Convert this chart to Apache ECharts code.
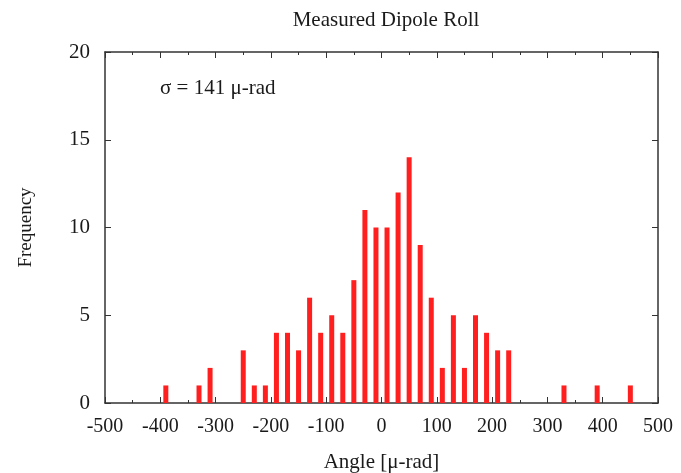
<!DOCTYPE html>
<html>
<head>
<meta charset="UTF-8">
<script src="https://cdn.jsdelivr.net/npm/echarts@6/dist/echarts.min.js"></script>
<style>
  html, body { margin: 0; padding: 0; background: #fff; }
  #chart { width: 681px; height: 473px; }
</style>
</head>
<body>
<div id="chart"></div>
<script>
// bin centres (μ-rad) and counts
const binCenters = [-390, -330, -310, -250, -230, -210, -190, -170, -150, -130, -110, -90, -70, -50, -30, -10,
                    10, 30, 50, 70, 90, 110, 130, 150, 170, 190, 210, 230, 330, 390, 450];
const counts =     [1, 1, 2, 3, 1, 1, 4, 4, 3, 6, 4, 5, 4, 7, 11, 10,
                    10, 12, 14, 9, 6, 2, 5, 2, 5, 4, 3, 3, 1, 1, 1];

const font = 'Liberation Serif';
const axisColor = '#333';
const textColor = '#1a1a1a';

const chart = echarts.init(document.getElementById('chart'));

const baseX = {
  type: 'value', min: -500, max: 500, interval: 100,
  axisLine: { show: true, onZero: false, lineStyle: { color: axisColor, width: 1.5 } },
  axisTick: { show: true, inside: true, length: 6, lineStyle: { color: axisColor } },
  minorTick: { show: true, splitNumber: 2, length: 3, lineStyle: { color: axisColor } },
  splitLine: { show: false }
};
const baseY = {
  type: 'value', min: 0, max: 20, interval: 5,
  axisLine: { show: true, onZero: false, lineStyle: { color: axisColor, width: 1.5 } },
  axisTick: { show: true, inside: true, length: 6, lineStyle: { color: axisColor } },
  splitLine: { show: false }
};

chart.setOption({
  animation: false,
  title: {
    text: 'Measured Dipole Roll', left: 381, textAlign: 'center', top: 5,
    textStyle: { fontFamily: font, fontSize: 21, fontWeight: 'normal', color: textColor }
  },
  grid: { left: 105, right: 23, top: 52, bottom: 70, containLabel: false, outerBoundsMode: 'none' },
  xAxis: [
    Object.assign({}, baseX, {
      position: 'bottom',
      name: 'Angle [μ-rad]', nameLocation: 'middle', nameGap: 49,
      nameTextStyle: { fontFamily: font, fontSize: 21, color: textColor },
      axisLabel: { fontFamily: font, fontSize: 20, color: textColor, margin: 14 }
    }),
    Object.assign({}, baseX, { position: 'top', axisLabel: { show: false } })
  ],
  yAxis: [
    Object.assign({}, baseY, {
      position: 'left',
      name: 'Frequency', nameLocation: 'middle', nameGap: 69,
      nameTextStyle: { fontFamily: font, fontSize: 19, color: textColor },
      axisLabel: { fontFamily: font, fontSize: 21, color: textColor, margin: 15 }
    }),
    Object.assign({}, baseY, { position: 'right', axisLabel: { show: false } })
  ],
  graphic: [{
    type: 'text', left: 160, top: 78,
    style: { text: 'σ = 141 μ-rad', font: '21px "Liberation Serif"', fill: textColor }
  }],
  series: [{
    type: 'bar',
    xAxisIndex: 0, yAxisIndex: 0,
    barWidth: 5,
    itemStyle: { color: '#ff1f1f' },
    data: binCenters.map((x, i) => [x, counts[i]])
  }]
});
</script>
</body>
</html>
